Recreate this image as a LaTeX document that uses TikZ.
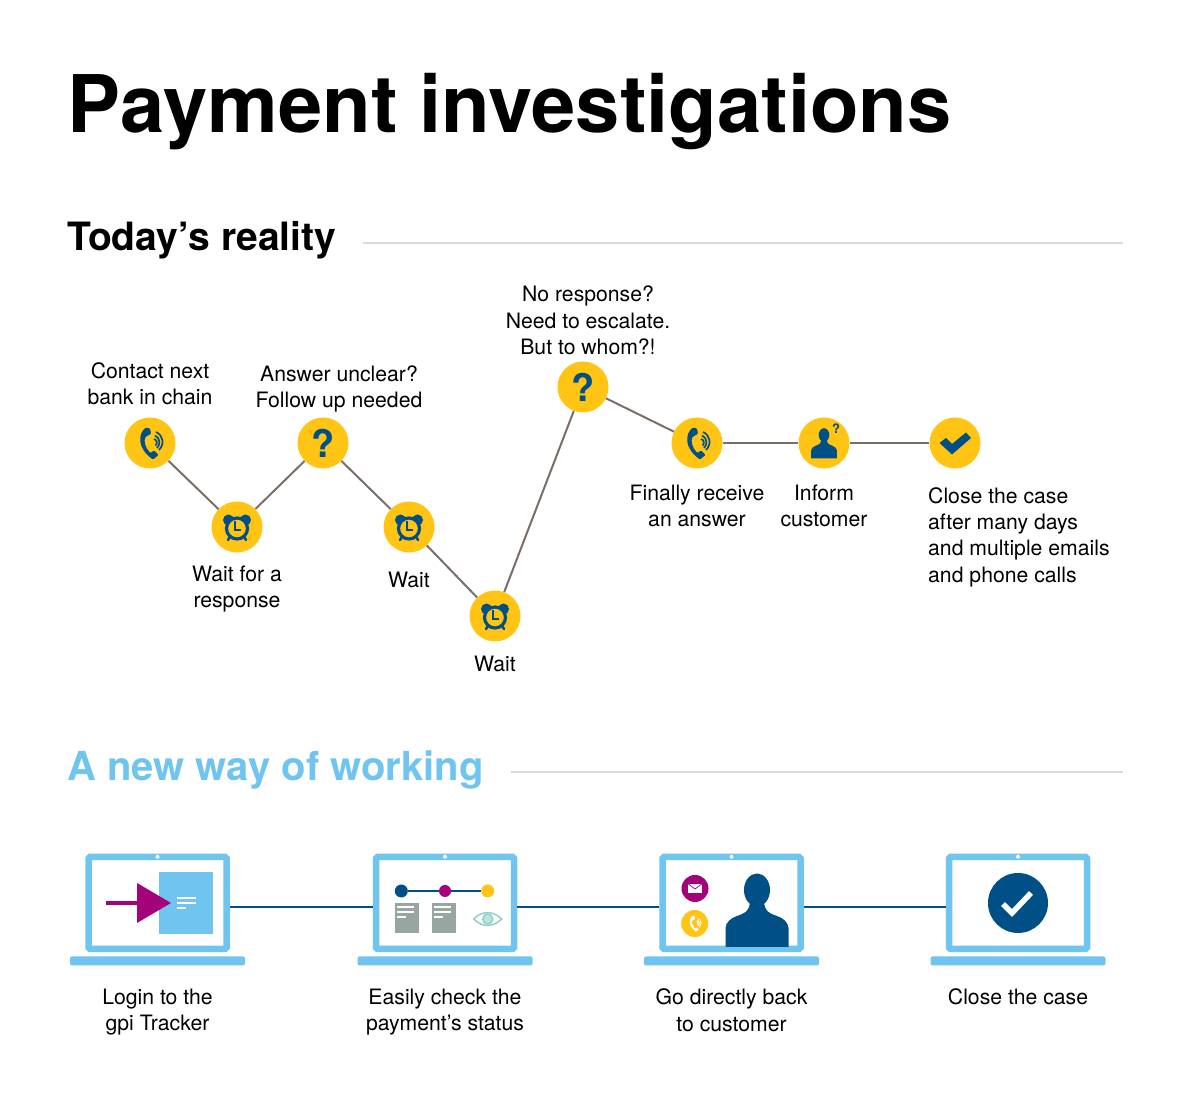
\documentclass[tikz,border=0pt]{standalone}
\usepackage{fontspec}
\setmainfont{TeX Gyre Heros}
\usepackage{tikz}
\usetikzlibrary{positioning}
\definecolor{gpiyellow}{HTML}{FFC414}
\definecolor{gpinavy}{HTML}{004F86}
\definecolor{gpisky}{HTML}{6FC5F0}
\definecolor{gpipurple}{HTML}{A3027A}
\definecolor{gpigrey}{HTML}{97A6A1}
\definecolor{gpiteal}{HTML}{8FD0C9}
\definecolor{gpibrown}{HTML}{7A6E68}
\definecolor{gpirule}{HTML}{DADADA}
\tikzset{
  pics/phoneicon/.style 2 args={code={
    \begin{scope}[yscale=-1,scale=#2]
    \fill[#1,rounded corners=#2*1pt] (-4,-15.5) .. controls (-12,-9) and (-13,5) .. (3,16.5) -- (8.5,12) -- (4,7.5) -- (0.5,10)
      .. controls (-5,5) and (-6.5,-3) .. (-4,-6.5) -- (1,-9) -- (0,-14.5) -- cycle;
    \draw[#1,line width=#2*1.7pt] (4,-4) .. controls (7,-3) and (8,0) .. (5.5,2.5);
    \draw[#1,line width=#2*1.7pt] (5,-7.5) .. controls (10,-5) and (11,1) .. (7,5);
    \draw[#1,line width=#2*1.7pt] (6,-11) .. controls (13,-8) and (15,1) .. (9,7);
    \end{scope}
  }},
  pics/clockicon/.style={code={
    \begin{scope}[yscale=-1]
    \fill[gpinavy] (-8.5,-7) circle (5.5);
    \fill[gpinavy] (8.5,-7) circle (5.5);
    \draw[gpinavy,line width=2.5pt,line cap=round] (-7,10) -- (-9,13);
    \draw[gpinavy,line width=2.5pt,line cap=round] (7,10) -- (9,13);
    \draw[gpinavy,line width=3.2pt,fill=gpiyellow] (0,1.5) circle (10.5);
    \draw[gpinavy,line width=1.2pt] (-2,-6) -- (-2,3) -- (4,3);
    \end{scope}
  }},
  pics/personicon/.style 2 args={code={
    \begin{scope}[yscale=-1,scale=#2]
    \fill[#1] (0,0) ellipse (13 and 16.5);
    \fill[#1] (-31.5,57) -- (-31.5,38) .. controls (-31,32) and (-26,28) .. (-20,26) .. controls (-12,23) and (-8,22) .. (-7,12)
      -- (7,12) .. controls (8,22) and (12,23) .. (20,26) .. controls (26,28) and (31,32) .. (31.5,38) -- (31.5,57) -- cycle;
    \end{scope}
  }},
  pics/tickicon/.style={code={
    \begin{scope}[yscale=-1]
    \fill[gpinavy] (-15.5,0) -- (-9,-5) -- (-3,1) -- (11,-10.5) -- (16,-5) -- (-3,11.5) -- cycle;
    \end{scope}
  }}
}
\begin{document}
\begin{tikzpicture}[x=1pt,y=1pt,font=\fontsize{21.2}{26.4}\selectfont,node distance=6pt]
\tikzstyle{stepdot}=[circle,fill=gpiyellow,inner sep=0pt,minimum size=51pt]
\tikzstyle{asktext}=[text=gpinavy,font=\fontsize{38}{38}\selectfont\bfseries]
\tikzstyle{steplink}=[draw=gpibrown,line width=2pt]
\tikzstyle{steplabel}=[align=center,inner sep=0pt]
\tikzstyle{heading}=[anchor=base west,inner sep=0pt]
\tikzstyle{headrule}=[draw=gpirule,line width=2pt]
\tikzstyle{screen}=[draw=gpisky,line width=6.5pt,fill=white,rounded corners=1.5pt,minimum width=138pt,minimum height=92pt,inner sep=0pt]
\tikzstyle{lapbase}=[fill=gpisky,rounded corners=2pt,minimum width=175pt,minimum height=9pt,inner sep=0pt]
\tikzstyle{lapdot}=[circle,fill=white,inner sep=0pt,minimum size=4pt]
\tikzstyle{laplink}=[draw=gpinavy,line width=1.7pt]
\tikzstyle{sheet}=[fill=gpigrey,inner sep=0pt,minimum width=24pt,minimum height=30pt]
\tikzstyle{bead}=[circle,inner sep=0pt,minimum size=13pt]
\useasboundingbox (0,0) rectangle (1200,1119);
\fill[white] (0,0) rectangle (1200,1119);
\node[anchor=base west,inner sep=0pt,font=\fontsize{79.5}{80}\selectfont\bfseries] (title) at (67.5,986) {Payment investigations};
\node[heading,font=\fontsize{39}{39}\selectfont\bfseries] (today) at (67,868) {Today’s reality};
\coordinate (todaystart) at (363,876);
\coordinate (todayend) at (1123,876);
\draw[headrule] (todaystart) -- (todayend);
% steps of today
\node[stepdot] (callbank) at (150,676) {};
\node[stepdot,on grid,below right=84pt and 87pt of callbank] (waitone) {};
\node[stepdot,on grid,above right=84pt and 86pt of waitone,asktext] (unclear) {?};
\node[stepdot,on grid,below right=84pt and 86pt of unclear] (waittwo) {};
\node[stepdot,on grid,below right=89pt and 86pt of waittwo] (waitthree) {};
\node[stepdot,on grid,above right=229pt and 88pt of waitthree,asktext] (escalate) {?};
\node[stepdot,on grid,below right=56pt and 114pt of escalate] (answer) {};
\node[stepdot,on grid,right=127pt of answer] (inform) {};
\node[stepdot,on grid,right=131pt of inform] (closeold) {};
\draw[steplink] (callbank) -- (waitone);
\draw[steplink] (waitone) -- (unclear);
\draw[steplink] (unclear) -- (waittwo);
\draw[steplink] (waittwo) -- (waitthree);
\draw[steplink] (waitthree) -- (escalate);
\draw[steplink] (escalate) -- (answer);
\draw[steplink] (answer) -- (inform);
\draw[steplink] (inform) -- (closeold);
\pic at (callbank) {phoneicon={gpinavy}{1}};
\pic at (waitone) {clockicon};
\pic at (waittwo) {clockicon};
\pic at (waitthree) {clockicon};
\pic at (answer) {phoneicon={gpinavy}{1}};
\pic at ([yshift=8pt]inform) {personicon={gpinavy}{0.41}};
\node[text=gpinavy,inner sep=0pt,font=\fontsize{13}{13}\selectfont\bfseries] (informask) at ([shift={(12pt,14pt)}]inform) {?};
\pic at (closeold) {tickicon};
\node[steplabel,above=12pt of callbank] (callbanktext) {Contact next\\bank in chain};
\node[steplabel,below=13pt of waitone] (waitonetext) {Wait for a\\response};
\node[steplabel,above=5pt of unclear,xshift=16pt] (uncleartext) {Answer unclear?\\Follow up needed};
\node[steplabel,below=19pt of waittwo] (waittwotext) {Wait};
\node[steplabel,below=14pt of waitthree] (waitthreetext) {Wait};
\node[steplabel,above=6pt of escalate,xshift=5pt] (escalatetext) {No response?\\Need to escalate.\\But to whom?!};
\node[steplabel,below=16pt of answer] (answertext) {Finally receive\\an answer};
\node[steplabel,below=16pt of inform] (informtext) {Inform\\customer};
\node[steplabel,align=left,anchor=north west] (closeoldtext) at (928,632) {Close the case\\after many days\\and multiple emails\\and phone calls};
% new way of working
\node[heading,text=gpisky,font=\fontsize{40}{40}\selectfont\bfseries] (newway) at (67,338) {A new way of working};
\coordinate (newwaystart) at (511,347);
\coordinate (newwayend) at (1123,347);
\draw[headrule] (newwaystart) -- (newwayend);
\node[screen] (login) at (157.5,216) {};
\node[screen,on grid,right=287.5pt of login] (status) {};
\node[screen,on grid,right=286.5pt of status] (direct) {};
\node[screen,on grid,right=286.5pt of direct] (closenew) {};
\draw[laplink] ([yshift=-4pt]login.east) -- ([yshift=-4pt]status.west);
\draw[laplink] ([yshift=-4pt]status.east) -- ([yshift=-4pt]direct.west);
\draw[laplink] ([yshift=-4pt]direct.east) -- ([yshift=-4pt]closenew.west);
\foreach \lap/\name in {login/one,status/two,direct/three,closenew/four}{
  \node[lapbase,below=4pt of \lap] (base\name) {};
  \node[lapdot,yshift=-3pt] (dot\name) at (\lap.north) {};
}
% login screen
\node[fill=gpisky,inner sep=0pt,minimum width=54pt,minimum height=62pt] (tracker) at (186,216) {};
\coordinate (arrowstart) at (105.5,216);
\coordinate (arrowtip) at (171,216);
\draw[gpipurple,line width=3.5pt] (arrowstart) -- (140,216);
\fill[gpipurple] (137,236) -- (arrowtip) -- (137,196) -- cycle;
\draw[white,line width=1.7pt] (177,221) -- (196,221) (177,216) -- (196,216) (177,211) -- (186,211);
% status screen
\node[bead,fill=gpinavy] (beadone) at (401.3,228) {};
\node[bead,fill=gpipurple,minimum size=12pt] (beadtwo) at (445,228) {};
\node[bead,fill=gpiyellow] (beadthree) at (487.7,228) {};
\draw[gpinavy,line width=2pt] (beadone) -- (beadtwo);
\draw[gpinavy,line width=2pt] (beadtwo) -- (beadthree);
\node[sheet] (sheetone) at (407,201) {};
\node[sheet,on grid,right=37pt of sheetone] (sheettwo) {};
\foreach \sx in {407,444}{
  \draw[white,line width=1.5pt] (\sx-10,212) -- (\sx+7,212) (\sx-10,207) -- (\sx+7,207) (\sx-10,202) -- (\sx-1,202);
}
\draw[gpiteal,line width=1.5pt] (473.7,200) .. controls (482,208.5) and (493,208.5) .. (501.7,200) .. controls (493,191.5) and (482,191.5) .. (473.7,200) -- cycle;
\draw[gpiteal,line width=1.5pt,fill=gpiteal!60] (487.7,200) circle (5);
% customer screen
\pic at (757,229) {personicon={gpinavy}{1}};
\node[circle,fill=gpipurple,inner sep=0pt,minimum size=27pt] (mailbadge) at (695,230.5) {};
\fill[white] (688.3,226) rectangle (701.7,235);
\draw[gpipurple,line width=.7pt] (688.3,235) -- (695,230) -- (701.7,235);
\node[circle,fill=gpiyellow,inner sep=0pt,minimum size=27pt] (phonebadge) at (694.7,195.5) {};
\pic at (phonebadge) {phoneicon={white}{0.5}};
% closed screen
\node[circle,fill=gpinavy,inner sep=0pt,minimum size=60pt] (closedbadge) at (closenew) {};
\draw[white,line width=5.5pt] (1003,215) -- (1012,206) -- (1031,226);
% captions
\node[steplabel,below=23pt of baseone] (logintext) {Login to the\\gpi Tracker};
\node[steplabel,below=23pt of basetwo] (statustext) {Easily check the\\payment’s status};
\node[steplabel,below=23pt of basethree] (directtext) {Go directly back\\to customer};
\node[steplabel,below=23pt of basefour] (closenewtext) {Close the case};
\end{tikzpicture}
\end{document}
